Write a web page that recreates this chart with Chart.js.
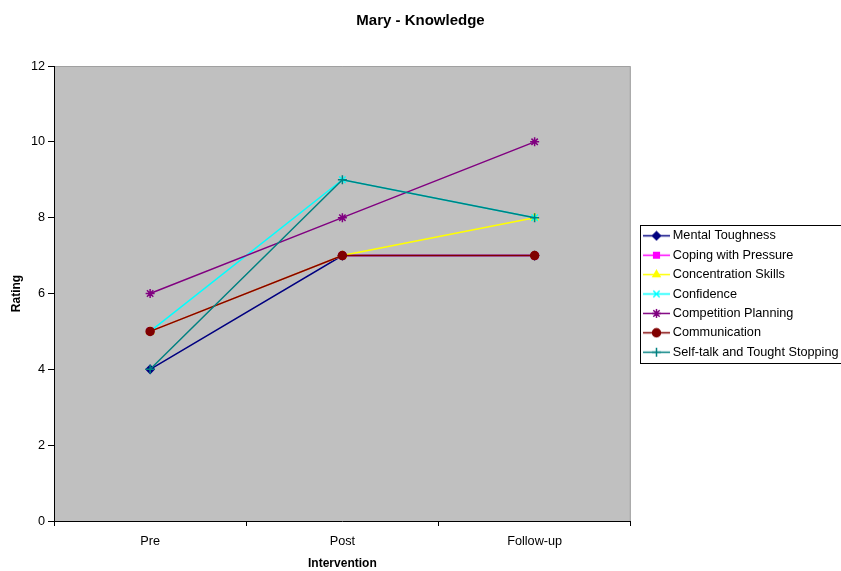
<!DOCTYPE html>
<html>
<head>
<meta charset="utf-8">
<script src="https://cdn.jsdelivr.net/npm/chart.js@4/dist/chart.umd.min.js"></script>
<style>
  html, body { margin: 0; padding: 0; background: #ffffff; }
  #wrap { width: 841px; height: 571px; position: relative; }
</style>
</head>
<body>
<div id="wrap"><canvas id="c" width="841" height="571"></canvas></div>
<script>
// Rating scale and the three assessment points
const phases = ['Pre', 'Post', 'Follow-up'];
const ratingTicks = [0, 2, 4, 6, 8, 10, 12];

// Ratings per skill area at each phase
const mentalToughness     = [4, 7, 7];
const copingWithPressure  = [5, 7, 7];
const concentrationSkills = [5, 7, 8];
const confidence          = [5, 9, 8];
const competitionPlanning = [6, 8, 10];
const communication       = [5, 7, 7];
const selfTalk            = [4, 9, 8];

const FONT = "'Liberation Sans', Arial, sans-serif";

const seriesDefs = [
  { label: 'Mental Toughness',               data: mentalToughness,     color: '#000080', style: 'rectRot',  radius: 4 },
  { label: 'Coping with Pressure',           data: copingWithPressure,  color: '#FF00FF', style: 'rect',     radius: 4 },
  { label: 'Concentration Skills',           data: concentrationSkills, color: '#FFFF00', style: 'triangle', radius: 4 },
  { label: 'Confidence',                     data: confidence,          color: '#00FFFF', style: 'crossRot', radius: 4.5 },
  { label: 'Competition Planning',           data: competitionPlanning, color: '#800080', style: 'star',     radius: 4.5 },
  { label: 'Communication',                  data: communication,       color: '#800000', style: 'circle',   radius: 4 },
  { label: 'Self-talk and Tought Stopping',  data: selfTalk,            color: '#008080', style: 'cross',    radius: 4.5 }
];

// Legend icons: a short line segment with the series marker in the middle
// (the left few pixels stay transparent so the segment sits close to the text)
function makeLegendIcon(def) {
  const cv = document.createElement('canvas');
  cv.width = 31; cv.height = 11;
  const ctx = cv.getContext('2d');
  ctx.strokeStyle = def.color;
  ctx.lineWidth = 1.5;
  ctx.beginPath();
  ctx.moveTo(4, 5.5);
  ctx.lineTo(31, 5.5);
  ctx.stroke();
  ctx.fillStyle = def.color;
  if (Chart.helpers && Chart.helpers.drawPoint) {
    Chart.helpers.drawPoint(ctx, { pointStyle: def.style, radius: def.radius, borderWidth: 1.5, rotation: 0 }, 17.5, 5.5);
  }
  return cv;
}
const legendIcons = seriesDefs.map(makeLegendIcon);

// Later series are painted over earlier ones
const datasets = seriesDefs.map((d, i) => ({
  label: d.label,
  data: d.data,
  order: seriesDefs.length - i,
  borderColor: d.color,
  backgroundColor: d.color,
  borderWidth: 1.5,
  tension: 0,
  pointStyle: d.style,
  pointRadius: d.radius,
  pointHoverRadius: d.radius,
  pointBorderColor: d.color,
  pointBackgroundColor: d.color,
  pointBorderWidth: 1.5
}));

// Grey plot area and white page
const plotBackground = {
  id: 'plotBackground',
  beforeDraw(chart) {
    const { ctx, chartArea: a } = chart;
    ctx.save();
    ctx.fillStyle = '#ffffff';
    ctx.fillRect(0, 0, chart.width, chart.height);
    ctx.fillStyle = '#C0C0C0';
    ctx.fillRect(a.left, a.top, a.right - a.left, a.bottom - a.top);
    ctx.strokeStyle = '#a0a0a0';
    ctx.lineWidth = 1;
    ctx.beginPath();
    ctx.moveTo(a.left, a.top + 0.5);
    ctx.lineTo(a.right - 0.5, a.top + 0.5);
    ctx.lineTo(a.right - 0.5, a.bottom);
    ctx.stroke();
    ctx.restore();
  }
};

// Nudge the legend block beside the plot and frame it
const LEGEND_SHIFT_X = 5;
const LEGEND_SHIFT_TOP = 17;
const legendFrame = {
  id: 'legendFrame',
  afterLayout(chart) {
    const lg = chart.legend;
    if (!lg) return;
    lg.left += LEGEND_SHIFT_X;
    lg.right += LEGEND_SHIFT_X;
    lg.top += LEGEND_SHIFT_TOP;
  },
  afterDraw(chart) {
    const boxes = chart.legend && chart.legend.legendHitBoxes;
    if (!boxes || !boxes.length) return;
    const first = boxes[0], last = boxes[boxes.length - 1];
    const left = Math.min(...boxes.map(b => b.left)) - 2.5;
    const top = first.top + first.height / 2 - 11;
    const bottom = last.top + last.height / 2 + 11;
    if (![left, top, bottom].every(Number.isFinite)) return;
    const ctx = chart.ctx;
    ctx.save();
    ctx.strokeStyle = '#000000';
    ctx.lineWidth = 1;
    ctx.strokeRect(Math.round(left) + 0.5, Math.round(top) + 0.5, chart.width + 10 - left, Math.round(bottom - top));
    ctx.restore();
  }
};

new Chart(document.getElementById('c'), {
  type: 'line',
  data: { labels: phases, datasets },
  plugins: [plotBackground, legendFrame],
  options: {
    responsive: false,
    animation: false,
    events: [],
    layout: { padding: { left: 0, right: 0, top: 0, bottom: 0 } },
    plugins: {
      tooltip: { enabled: false },
      title: {
        display: true,
        text: 'Mary - Knowledge',
        color: '#000000',
        font: { family: FONT, size: 15, weight: 'bold', lineHeight: 1.2 },
        padding: { top: 12, bottom: 36 }
      },
      legend: {
        display: true,
        position: 'right',
        align: 'center',
        labels: {
          color: '#000000',
          font: { family: FONT, size: 12.7 },
          usePointStyle: true,
          pointStyleWidth: 24,
          padding: 6.7,
          sort: (a, b) => a.datasetIndex - b.datasetIndex,
          generateLabels(chart) {
            const items = Chart.defaults.plugins.legend.labels.generateLabels(chart);
            items.forEach(it => { it.pointStyle = legendIcons[it.datasetIndex]; });
            return items;
          }
        }
      }
    },
    scales: {
      x: {
        offset: true,
        grid: { offset: true, drawOnChartArea: false, tickLength: 5, color: '#000000', lineWidth: 1 },
        border: { display: true, color: '#000000', width: 1 },
        ticks: { color: '#000000', font: { family: FONT, size: 12.7 }, padding: 8, maxRotation: 0 },
        title: {
          display: true,
          text: 'Intervention',
          color: '#000000',
          font: { family: FONT, size: 12, weight: 'bold', lineHeight: 1.2 },
          padding: { top: 0, bottom: 0 }
        },
        afterFit(scale) { scale.height = 50; }
      },
      y: {
        min: 0,
        max: 12,
        afterBuildTicks(scale) { scale.ticks = ratingTicks.map(v => ({ value: v })); },
        grid: { drawOnChartArea: false, tickLength: 6, color: '#000000', lineWidth: 1 },
        border: { display: true, color: '#000000', width: 1 },
        ticks: { color: '#000000', font: { family: FONT, size: 12.7 }, padding: 3 },
        title: {
          display: true,
          text: 'Rating',
          color: '#000000',
          font: { family: FONT, size: 12, weight: 'bold', lineHeight: 1.2 },
          padding: { top: 9, bottom: 0 }
        },
        afterFit(scale) { scale.width = 54; }
      }
    }
  }
});
</script>
</body>
</html>
